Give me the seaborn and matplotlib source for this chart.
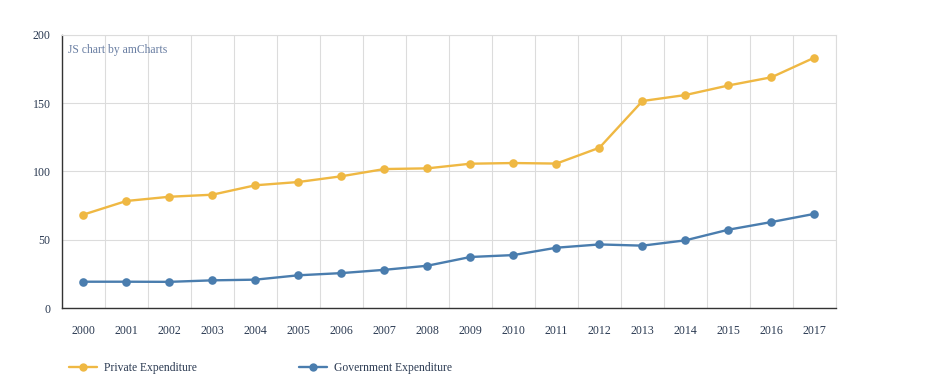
import numpy as np
import pandas as pd
import seaborn as sns
import matplotlib.pyplot as plt

years = list(range(2000, 2018))
private = [68.4, 78.4, 81.5, 83, 89.9, 92.3, 96.5, 101.8, 102.3, 105.7,
           106.2, 105.8, 117.4, 151.6, 156, 163, 169, 183.4]
government = [19.3, 19.3, 19.2, 20.3, 20.8, 24, 25.6, 28, 31, 37.4,
              38.8, 44.2, 46.6, 45.7, 49.6, 57.4, 63, 69]
series_names = ["Private Expenditure", "Government Expenditure"]
colors = ["#EFB843", "#4A7DAE"]

df = pd.DataFrame({
    "year": years * 2,
    "value": private + government,
    "series": [series_names[0]] * len(years) + [series_names[1]] * len(years),
})

sns.set_style("white")
plt.rcParams["font.family"] = ["Liberation Serif", "DejaVu Serif"]
text_color = "#2B3A52"

fig = plt.figure(figsize=(9.5, 3.88), dpi=100)
ax = fig.add_axes([0.065, 0.206, 0.815, 0.704])

sns.lineplot(data=df, x="year", y="value", hue="series", palette=colors,
             marker="o", markersize=6.2, markeredgewidth=0, linewidth=1.7,
             legend=False, ax=ax)

ax.set_xlim(1999.5, 2017.5)
ax.set_ylim(0, 200)
ax.set_xticks(years)
ax.set_xticklabels([str(y) for y in years])
ax.set_xticks(np.arange(1999.5, 2018, 1), minor=True)
ax.set_yticks([0, 50, 100, 150, 200])
ax.grid(axis="x", which="minor", color="#DCDCDC", linewidth=0.8)
ax.grid(axis="y", which="major", color="#DCDCDC", linewidth=0.8)
ax.set_axisbelow(True)
ax.tick_params(axis="x", which="minor", length=0)
ax.tick_params(axis="both", which="major", length=5, width=1, colors="#333333",
               labelcolor=text_color, labelsize=8.6, direction="out")
ax.tick_params(axis="x", which="major", pad=7)
ax.tick_params(axis="y", which="major", pad=3)
for side in ["left", "bottom"]:
    ax.spines[side].set_color("#333333")
    ax.spines[side].set_linewidth(1)
for side in ["top", "right"]:
    ax.spines[side].set_color("#DCDCDC")
    ax.spines[side].set_linewidth(0.8)
ax.set_xlabel("")
ax.set_ylabel("")

ax.text(0.008, 0.965, "JS chart by amCharts", transform=ax.transAxes,
        ha="left", va="top", fontsize=8.4, color="#6A7FA3")

handles = [plt.Line2D([], [], color=c, marker="o", markersize=6,
                      markeredgewidth=0, linewidth=1.7) for c in colors]
fig.legend(handles, series_names, loc="lower left", bbox_to_anchor=(0.062, 0.008),
           ncol=2, frameon=False, fontsize=8.4, handlelength=2.4,
           handletextpad=0.6, columnspacing=8.7, labelcolor=text_color)

fig.savefig("out.png", dpi=100, facecolor="white")
